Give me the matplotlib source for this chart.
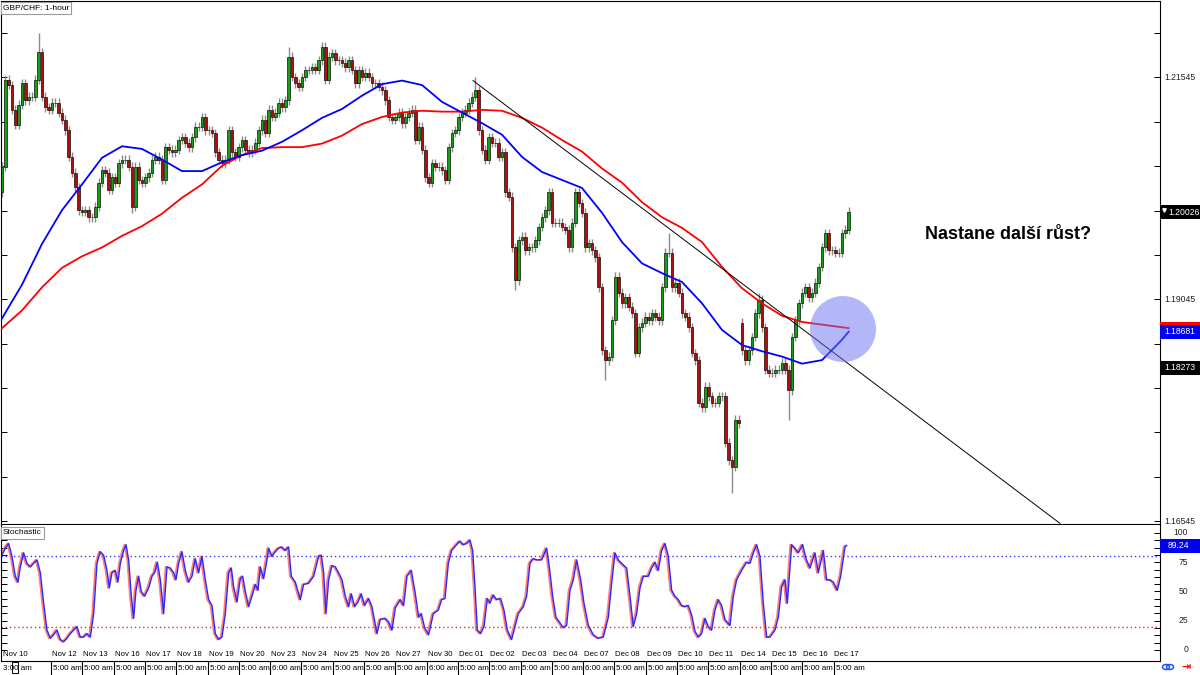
import numpy as np
import matplotlib
matplotlib.use("Agg")
import matplotlib.pyplot as plt
from matplotlib.patches import Rectangle, Ellipse
from matplotlib.lines import Line2D
from matplotlib.transforms import blended_transform_factory as blend

plt.rcParams["font.family"] = ["Liberation Sans", "DejaVu Sans"]

# Schlusskurse, eine Kerze pro Index
close = [
    1.2054, 1.2152, 1.2146, 1.2118, 1.2101, 1.2124, 1.2148, 1.2129, 1.2133, 1.2133,
    1.2152, 1.2183, 1.2133, 1.2121, 1.2118, 1.2126, 1.2126, 1.2115, 1.2107, 1.2095,
    1.2065, 1.2047, 1.2031, 1.2005, 1.2003, 1.2005, 1.1997, 1.1997, 1.2009, 1.2036,
    1.2050, 1.2047, 1.2028, 1.2042, 1.2036, 1.2058, 1.2062, 1.2062, 1.2054, 1.2009,
    1.2054, 1.2039, 1.2036, 1.2042, 1.2047, 1.2062, 1.2065, 1.2062, 1.2039, 1.2076,
    1.2073, 1.2070, 1.2073, 1.2084, 1.2087, 1.2081, 1.2076, 1.2087, 1.2099, 1.2099,
    1.2110, 1.2095, 1.2095, 1.2092, 1.2070, 1.2062, 1.2058, 1.2062, 1.2095, 1.2070,
    1.2065, 1.2076, 1.2084, 1.2073, 1.2070, 1.2073, 1.2081, 1.2095, 1.2107, 1.2092,
    1.2118, 1.2110, 1.2115, 1.2126, 1.2121, 1.2129, 1.2178, 1.2155, 1.2148, 1.2144,
    1.2155, 1.2163, 1.2163, 1.2166, 1.2163, 1.2174, 1.2189, 1.2152, 1.2178, 1.2182,
    1.2174, 1.2174, 1.2171, 1.2166, 1.2174, 1.2163, 1.2148, 1.2163, 1.2155, 1.2160,
    1.2155, 1.2148, 1.2148, 1.2144, 1.2140, 1.2129, 1.2110, 1.2107, 1.2110, 1.2115,
    1.2103, 1.2110, 1.2115, 1.2118, 1.2084, 1.2099, 1.2073, 1.2042, 1.2036, 1.2058,
    1.2054, 1.2054, 1.2050, 1.2039, 1.2076, 1.2092, 1.2095, 1.2110, 1.2115, 1.2118,
    1.2126, 1.2133, 1.2140, 1.2095, 1.2073, 1.2062, 1.2087, 1.2081, 1.2081, 1.2065,
    1.2070, 1.2025, 1.2020, 1.1963, 1.1926, 1.1971, 1.1975, 1.1960, 1.1963, 1.1963,
    1.1971, 1.1986, 1.1997, 1.2005, 1.2025, 1.1991, 1.1991, 1.1991, 1.1986, 1.1983,
    1.1963, 1.1991, 1.2025, 1.2013, 1.2002, 1.1963, 1.1968, 1.1960, 1.1952, 1.1918,
    1.1847, 1.1836, 1.1840, 1.1881, 1.1930, 1.1912, 1.1900, 1.1907, 1.1896, 1.1889,
    1.1844, 1.1873, 1.1878, 1.1885, 1.1881, 1.1889, 1.1885, 1.1881, 1.1918, 1.1957,
    1.1957, 1.1918, 1.1923, 1.1912, 1.1889, 1.1885, 1.1873, 1.1844, 1.1836, 1.1788,
    1.1783, 1.1806, 1.1795, 1.1788, 1.1788, 1.1795, 1.1795, 1.1743, 1.1723, 1.1716,
    1.1769, 1.1765, 1.1847, 1.1836, 1.1847, 1.1862, 1.1889, 1.1904, 1.1873, 1.1825,
    1.1822, 1.1822, 1.1825, 1.1825, 1.1833, 1.1825, 1.1802, 1.1862, 1.1881, 1.1900,
    1.1912, 1.1918, 1.1907, 1.1912, 1.1923, 1.1941, 1.1963, 1.1979, 1.1960, 1.1960,
    1.1957, 1.1957, 1.1979, 1.1983, 1.2003,
]
open_override = {0: 1.2025, 222: 1.1878}          # erster Kurs + Wochenend-Gap
high_spikes = {11: 1.2205, 86: 1.2189, 96: 1.2195, 142: 1.2155, 200: 1.1979, 227: 1.1912}
low_spikes = {39: 1.2002, 154: 1.1915, 181: 1.1814, 219: 1.1686, 236: 1.1769}
WICK = 0.0005

# gleitende Durchschnitte, alle 6 Kerzen + letzter Wert
MA_STEP = 6
ma_blue = [1.1883, 1.1921, 1.1967, 1.2005, 1.2034, 1.2064, 1.2077, 1.2074, 1.2062, 1.2049,
           1.2049, 1.2059, 1.2067, 1.2072, 1.2082, 1.2095, 1.2109, 1.2119, 1.2134, 1.2147,
           1.2151, 1.2146, 1.2127, 1.2115, 1.2103, 1.2090, 1.2065, 1.2048, 1.2039, 1.2030,
           1.2002, 1.1969, 1.1945, 1.1934, 1.1924, 1.1900, 1.1870, 1.1853, 1.1846, 1.1840,
           1.1832, 1.1836, 1.1859, 1.1868]
ma_red = [1.1872, 1.1892, 1.1918, 1.1940, 1.1953, 1.1963, 1.1976, 1.1987, 1.2001, 1.2019,
          1.2034, 1.2055, 1.2067, 1.2075, 1.2076, 1.2076, 1.2080, 1.2089, 1.2102, 1.2110,
          1.2115, 1.2117, 1.2116, 1.2116, 1.2118, 1.2117, 1.2109, 1.2098, 1.2084, 1.2071,
          1.2052, 1.2036, 1.2014, 1.1997, 1.1985, 1.1969, 1.1941, 1.1917, 1.1900, 1.1886,
          1.1879, 1.1876, 1.1873, 1.1872]

# Stochastik (Zeit in Kerzen-Einheiten, Wert 0..100)
stoch_t = [0, 1, 2, 3, 4, 4.8, 5.5, 6.5, 7.5, 8.5,
           9.5, 10.5, 11.5, 12.5, 13.5, 14.5, 15.5, 16.5, 17.5, 18.5,
           19.5, 20.5, 21.5, 22.5, 23.5, 24.5, 25.5, 26.5, 27.5, 28.5,
           29.5, 30.5, 31.5, 32.2, 33, 34, 34.8, 35.5, 36.5, 37.2,
           38, 38.8, 39.5, 40.2, 41, 41.8, 42.8, 44, 45, 45.8,
           46.6, 47.5, 48.5, 49.5, 50.5, 51.5, 52.2, 53, 54, 55,
           56, 57, 58, 59, 60, 61, 62, 63, 64, 65,
           66, 67, 68, 68.8, 69.5, 70.5, 71.5, 72.2, 73, 74,
           75, 76, 76.8, 77.5, 78.5, 79.5, 80, 81, 82, 83,
           84, 85, 86, 86.8, 88, 89.5, 90.5, 92, 93.5, 95,
           95.8, 96.5, 97.2, 98, 99, 100, 101, 102, 103, 104,
           104.8, 105.8, 106.8, 107.8, 108.8, 110, 111, 112.5, 113.5, 115,
           116, 117, 118, 119.5, 120.5, 121.5, 122.8, 124, 125, 125.8,
           126.8, 128,
           129.4, 130.9, 131.9, 132.9, 133.9, 134.9, 136.4, 137.4, 138.4, 139.4,
           140.4, 141.2, 141.9, 142.6, 143.6, 144.6, 145.6, 146.4, 147.4, 148.4,
           149.6, 150.6, 151.6, 152.9, 153.9, 154.9, 156.4, 157.4, 158.4, 159.4,
           160.4, 161.9, 163.4, 164.2, 165.2, 166.2, 167.4, 168.4, 169.4, 170.4,
           171.4, 172.4, 173.6, 174.6, 175.9, 177.4, 178.9, 180.4, 181.9, 182.9,
           183.9, 184.9, 185.9, 187.4, 188.4, 189.4, 190.4, 191.4, 192.4, 193.9,
           194.9, 195.9, 196.9, 197.9, 198.9, 199.9, 200.9, 201.9, 202.9, 203.9,
           204.9, 205.9, 206.9, 207.9, 208.9, 209.9, 210.9, 211.9, 212.9, 213.9,
           214.9, 215.9, 216.9, 218.4, 219.4, 220.4, 221.9, 223.4, 224.4, 225.4,
           226.4, 227.4, 228.4, 229.4, 230.4, 231.9, 232.9, 233.9, 234.9, 235.6,
           236.4, 236.9, 237.9, 238.9, 240.2, 241.2, 242.4, 243.9, 244.9, 246.4,
           247.4, 248.4, 249.4, 250.6, 251.6, 252.9, 253.4]
stoch_k = [81, 87, 91, 80, 63, 58, 71, 83, 74, 71,
           74, 77, 66, 40, 17, 10, 13, 17, 9, 7,
           10, 14, 17, 20, 11, 11, 14, 11, 31, 74,
           84, 81, 68, 53, 66, 68, 58, 74, 85, 90,
           77, 46, 27, 51, 63, 50, 46, 53, 63, 66,
           75, 60, 31, 71, 70, 66, 60, 74, 84, 68,
           58, 63, 78, 66, 80, 60, 43, 38, 14, 9,
           11, 31, 66, 70, 54, 41, 61, 63, 50, 37,
           46, 56, 51, 71, 61, 77, 87, 80, 84, 87,
           88, 85, 88, 63, 58, 43, 56, 57, 63, 80,
           81, 66, 31, 60, 72, 71, 66, 60, 46, 37,
           48, 37, 41, 48, 38, 44, 37, 14, 26, 27,
           24, 17, 36, 43, 38, 63, 68, 48, 28, 31,
           19, 13,
           31, 34, 43, 44, 74, 85, 90, 93, 90, 91,
           94, 85, 54, 17, 14, 20, 44, 40, 47, 43,
           44, 34, 17, 9, 20, 31, 37, 46, 74, 78,
           77, 77, 87, 71, 46, 28, 23, 19, 21, 51,
           60, 77, 60, 40, 21, 13, 10, 11, 28, 57,
           83, 77, 74, 70, 46, 20, 31, 53, 63, 63,
           70, 75, 68, 85, 91, 80, 51, 46, 43, 38,
           37, 38, 30, 16, 11, 14, 27, 20, 17, 34,
           43, 38, 26, 21, 46, 60, 68, 75, 74, 83,
           90, 80, 40, 11, 11, 17, 28, 54, 60, 40,
           71, 90, 87, 83, 90, 78, 70, 83, 66, 85,
           60, 60, 58, 51, 63, 88, 89.24]
STOCH_LEVELS = (80, 20)

trend_t = [141.3, 317.4]
trend_p = [1.2151, 1.1652]

price_labels = [1.21545, 1.19045, 1.16545]
last_price = 1.20026
tag_red, tag_blue, tag_black = 1.18715, 1.18681, 1.18273
stoch_last = 89.24

dates = ["Nov 12", "Nov 13", "Nov 16", "Nov 17", "Nov 18", "Nov 19", "Nov 20",
         "Nov 23", "Nov 24", "Nov 25", "Nov 26", "Nov 27", "Nov 30", "Dec 01",
         "Dec 02", "Dec 03", "Dec 04", "Dec 07", "Dec 08", "Dec 09", "Dec 10",
         "Dec 11", "Dec 14", "Dec 15", "Dec 16", "Dec 17"]
times = ["5:00 am", "5:00 am", "5:00 am", "5:00 am", "5:00 am", "5:00 am", "5:00 am",
         "6:00 am", "5:00 am", "5:00 am", "5:00 am", "5:00 am", "6:00 am", "5:00 am",
         "5:00 am", "5:00 am", "5:00 am", "6:00 am", "5:00 am", "5:00 am", "5:00 am",
         "5:00 am", "6:00 am", "5:00 am", "5:00 am", "5:00 am"]
DAY0, DAY_STEP = 14.7, 9.39

# ── Layout ───────────────────────────────────────────────────────────────────
W, H = 1200, 675
def fx(px): return px / W
def fy(py): return 1 - py / H

PX_PRICE = 0.0001127
PX_STOCH = 1 / 1.17
GREEN, RED = "#17a017", "#b00f0f"

fig = plt.figure(figsize=(12, 6.75), dpi=100)
ax = fig.add_axes([fx(1), fy(524), fx(1159), fy(1) - fy(524)])
axs = fig.add_axes([fx(1), fy(660.5), fx(1159), fy(525) - fy(660.5)], sharex=ax)
ax.set_xlim(-0.3, 347.4)
ax.set_ylim(1.16513, 1.22407)
axs.set_ylim(-9.0, 106.8)

for a in (ax, axs):
    for s in a.spines.values():
        s.set_linewidth(0.8)
        s.set_color("black")
    a.tick_params(axis="x", bottom=False, labelbottom=False)
    a.tick_params(axis="y", direction="in", left=True, right=True, length=4,
                  width=0.7, labelleft=False)
axs.spines["top"].set_visible(False)
ax.set_yticks(1.16545 + 0.005 * np.arange(12))
axs.set_yticks(np.arange(0, 100.1, 6.25))

# ── Kerzen ───────────────────────────────────────────────────────────────────
c = np.array(close)
o = np.r_[np.nan, c[:-1]]
for i, v in open_override.items():
    o[i] = v
x = np.arange(len(c))
hi = np.maximum(o, c) + WICK
lo = np.minimum(o, c) - WICK
for i, v in high_spikes.items():
    hi[i] = v
for i, v in low_spikes.items():
    lo[i] = v
ax.vlines(x, lo, hi, color="#8a8a8a", lw=1.0, zorder=2)
up = c >= o
ax.bar(x[up], (c - o)[up], bottom=o[up], width=0.72, color=GREEN,
       edgecolor="black", lw=0.45, zorder=3)
ax.bar(x[~up], (o - c)[~up], bottom=c[~up], width=0.72, color=RED,
       edgecolor="black", lw=0.45, zorder=3)

# ── MAs, Trendlinie, Kreis ───────────────────────────────────────────────────
ma_t = np.r_[np.arange(0, len(c) - 1, MA_STEP), len(c) - 1]
ax.plot(ma_t, ma_red, color="#ff0000", lw=1.3, zorder=4, solid_joinstyle="round")
ax.plot(ma_t, ma_blue, color="#0000ff", lw=1.3, zorder=4, solid_joinstyle="round")
ax.plot(trend_t, trend_p, color="black", lw=0.7, zorder=5)
ax.add_patch(Ellipse((252.3, 1.1871), width=66 * 0.3, height=66 * PX_PRICE,
                     fc="#6870f0", ec="none", alpha=0.5, zorder=6))

# ── Stochastik ───────────────────────────────────────────────────────────────
axs.axhline(STOCH_LEVELS[0], color="#3a3aff", ls=(0, (1, 2)), lw=1.0)
axs.axhline(STOCH_LEVELS[1], color="#ff2020", ls=(0, (1, 2)), lw=1.0)
axs.plot(np.array(stoch_t) - 0.4, stoch_k, color="#ff5a5a", lw=1.4, alpha=0.8)
axs.plot(stoch_t, stoch_k, color="#2828ff", lw=1.0)

# ── rechte Achse: Beschriftungen & Kurs-Tags ─────────────────────────────────
tp = blend(ax.transAxes, ax.transData)
ts = blend(axs.transAxes, axs.transData)
XL = (1164 - 1) / 1159
BW = 40 / 1159
LBL = dict(fontsize=6.2, va="center", ha="left")
for v in price_labels:
    ax.text(XL, v, f"{v:.5f}", transform=tp, color="#202020", **LBL)

def tag(a, tr, y, h, txt, fc, dx=0.0):
    a.add_patch(Rectangle((1.0, y - h / 2), BW, h, transform=tr, fc=fc, ec="none",
                          clip_on=False, zorder=10))
    if txt:
        a.text(XL + dx, y, txt, transform=tr, color="white", zorder=11, **LBL)

h_p = 14 * PX_PRICE
tag(ax, tp, last_price, h_p, f"{last_price:.5f}", "black", dx=4 / 1159)
ax.plot([(1163.5 - 1) / 1159], [last_price + 2 * PX_PRICE], marker="v", ms=2.5,
        color="white", transform=tp, clip_on=False, zorder=12)
tag(ax, tp, tag_red, h_p, None, "#ff0000")          # vom blauen Tag verdeckt
tag(ax, tp, tag_blue, h_p, f"{tag_blue:.5f}", "#0000ee")
tag(ax, tp, tag_black, h_p, f"{tag_black:.5f}", "black")
tag(axs, ts, stoch_last, 14 * PX_STOCH, f"{stoch_last:.2f}", "#0000ee", dx=4 / 1159)
for v in (100, 75, 50, 25, 0):
    axs.text((1188 - 1) / 1159, v, str(v), transform=ts, fontsize=6.2, va="center",
             ha="right", color="#202020")

# ── Textboxen ────────────────────────────────────────────────────────────────
box = dict(boxstyle="square,pad=0.25", fc="white", ec="#9a9a9a", lw=0.8)
fig.text(fx(3), fy(8), "GBP/CHF: 1-hour", fontsize=6, va="center", ha="left", bbox=box)
fig.text(fx(3), fy(533), "Stochastic", fontsize=6, va="center", ha="left", bbox=box)
fig.text(fx(925), fy(235), "Nastane další růst?", fontsize=13, fontweight="bold",
         va="center", ha="left", color="black")

# ── Zeitachse ────────────────────────────────────────────────────────────────
tx = blend(ax.transData, fig.transFigure)
fig.text(0.3, fy(655), "Nov 10", transform=tx, fontsize=5.6, va="center", ha="left")
fig.text(0.3, fy(668), "3:00 am", transform=tx, fontsize=5.8, va="center", ha="left")
fig.add_artist(Rectangle((fx(12), fy(673)), fx(6), 11 / H, fc="white", ec="black", lw=0.7))
for k, (d, tm) in enumerate(zip(dates, times)):
    t = DAY0 + DAY_STEP * k
    fig.add_artist(Line2D([t, t], [fy(661), fy(675)], transform=tx, color="black", lw=0.8))
    fig.text(t + 0.3, fy(655), d, transform=tx, fontsize=5.6, va="center", ha="left")
    fig.text(t + 0.6, fy(668), tm, transform=tx, fontsize=5.8, va="center", ha="left")

# Icons unten rechts
for dxp in (0, 4):
    fig.add_artist(Ellipse((fx(1166 + dxp), fy(667)), width=fx(7), height=5 / H,
                           fc="none", ec="#1f4fff", lw=1.1))
fig.text(fx(1186), fy(667), "⇥", fontsize=8, color="red", va="center", ha="center",
         fontweight="bold", family="DejaVu Sans")

fig.savefig("out.png", dpi=100)
